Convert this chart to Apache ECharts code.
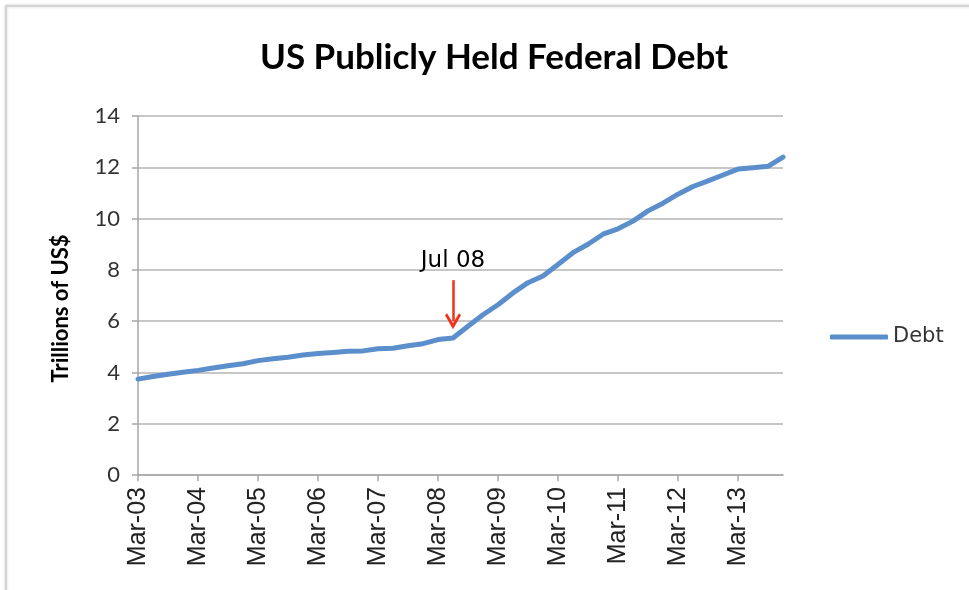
<!DOCTYPE html>
<html>
<head>
<meta charset="utf-8">
<script src="https://cdn.jsdelivr.net/npm/echarts@6/dist/echarts.min.js"></script>
<style>
html,body{margin:0;padding:0;background:#fff;}
#chart{width:969px;height:590px;}
</style>
</head>
<body>
<div id="chart"></div>
<script>
const categories = [
  'Mar-03','Jun-03','Sep-03','Dec-03',
  'Mar-04','Jun-04','Sep-04','Dec-04',
  'Mar-05','Jun-05','Sep-05','Dec-05',
  'Mar-06','Jun-06','Sep-06','Dec-06',
  'Mar-07','Jun-07','Sep-07','Dec-07',
  'Mar-08','Jun-08','Sep-08','Dec-08',
  'Mar-09','Jun-09','Sep-09','Dec-09',
  'Mar-10','Jun-10','Sep-10','Dec-10',
  'Mar-11','Jun-11','Sep-11','Dec-11',
  'Mar-12','Jun-12','Sep-12','Dec-12',
  'Mar-13','Jun-13','Sep-13','Dec-13'
];
const debt = [
  3.74, 3.84, 3.93, 4.01,
  4.08, 4.17, 4.26, 4.34,
  4.46, 4.53, 4.59, 4.68,
  4.74, 4.78, 4.83, 4.84,
  4.92, 4.94, 5.04, 5.12,
  5.28, 5.34, 5.80, 6.25,
  6.64, 7.10, 7.50, 7.76,
  8.21, 8.67, 9.00, 9.39,
  9.60, 9.90, 10.30, 10.60,
  10.95, 11.25, 11.47, 11.70,
  11.93, 11.98, 12.04, 12.40
];
const yTicks = { min: 0, max: 14, interval: 2 };
const annotation = { category: 'Jun-08', from: 7.6, to: 6.0, text: 'Jul 08' };

const chart = echarts.init(document.getElementById('chart'), null, { renderer: 'canvas' });
chart.setOption({
  backgroundColor: '#ffffff',
  animation: false,
  graphic: [{
    type: 'rect', z: -10,
    shape: { x: 6, y: 6, width: 1100, height: 1100 },
    style: { fill: '#ffffff', stroke: '#d4d4d4', lineWidth: 2, shadowBlur: 3, shadowColor: 'rgba(0,0,0,0.15)' }
  }],
  title: {
    text: 'US Publicly Held Federal Debt',
    left: 489, top: 35, textAlign: 'center',
    textStyle: { fontFamily: 'Lato', fontWeight: 'bold', fontSize: 35, color: '#000000' }
  },
  legend: {
    data: ['Debt'],
    left: 830, top: 325, padding: 0,
    itemWidth: 58, itemHeight: 5, icon: 'roundRect',
    textStyle: { fontFamily: 'DejaVu Sans', fontSize: 21, lineHeight: 24, color: '#333333' }
  },
  grid: { left: 138, right: 186, top: 116, bottom: 115, containLabel: false },
  xAxis: {
    type: 'category',
    data: categories,
    boundaryGap: false,
    axisLine: { show: true, lineStyle: { color: '#a6a6a6', width: 1.5 } },
    axisTick: { show: true, interval: 3, length: 6, lineStyle: { color: '#a6a6a6', width: 1.5 } },
    axisLabel: {
      interval: 3, rotate: 90, margin: 12,
      fontFamily: 'Liberation Sans', fontSize: 25, color: '#222222'
    },
    splitLine: { show: false }
  },
  yAxis: {
    type: 'value',
    min: yTicks.min, max: yTicks.max, interval: yTicks.interval,
    name: 'Trillions of US$',
    nameLocation: 'middle',
    nameGap: 66,
    nameTextStyle: { fontFamily: 'Lato', fontWeight: 'bold', fontSize: 22, color: '#000000', padding: [0, 26, 0, 0] },
    axisLine: { show: true, lineStyle: { color: '#a6a6a6', width: 1.5 } },
    axisTick: { show: true, length: 6, lineStyle: { color: '#a6a6a6', width: 1.5 } },
    axisLabel: { margin: 18, fontFamily: 'Lato', fontSize: 22, color: '#333333' },
    splitLine: { show: true, lineStyle: { color: '#b5b5b5', width: 1.5 } }
  },
  series: [{
    name: 'Debt',
    type: 'line',
    data: debt,
    symbol: 'none',
    smooth: false,
    lineStyle: { color: '#5b8fcc', width: 5, cap: 'round', join: 'round' },
    itemStyle: { color: '#5b8fcc' },
    markLine: {
      silent: true,
      symbol: ['none', 'path://M8,0 L16,13 L14,15 L8,5.5 L2,15 L0,13 Z'],
      symbolSize: [16, 16],
      lineStyle: { color: '#f2311d', width: 2.5, type: 'solid' },
      label: {
        show: true, position: 'start', distance: 8,
        formatter: annotation.text,
        fontFamily: 'DejaVu Sans', fontSize: 23, color: '#000000'
      },
      data: [[
        { coord: [annotation.category, annotation.from] },
        { coord: [annotation.category, annotation.to] }
      ]]
    }
  }]
});
</script>
</body>
</html>
